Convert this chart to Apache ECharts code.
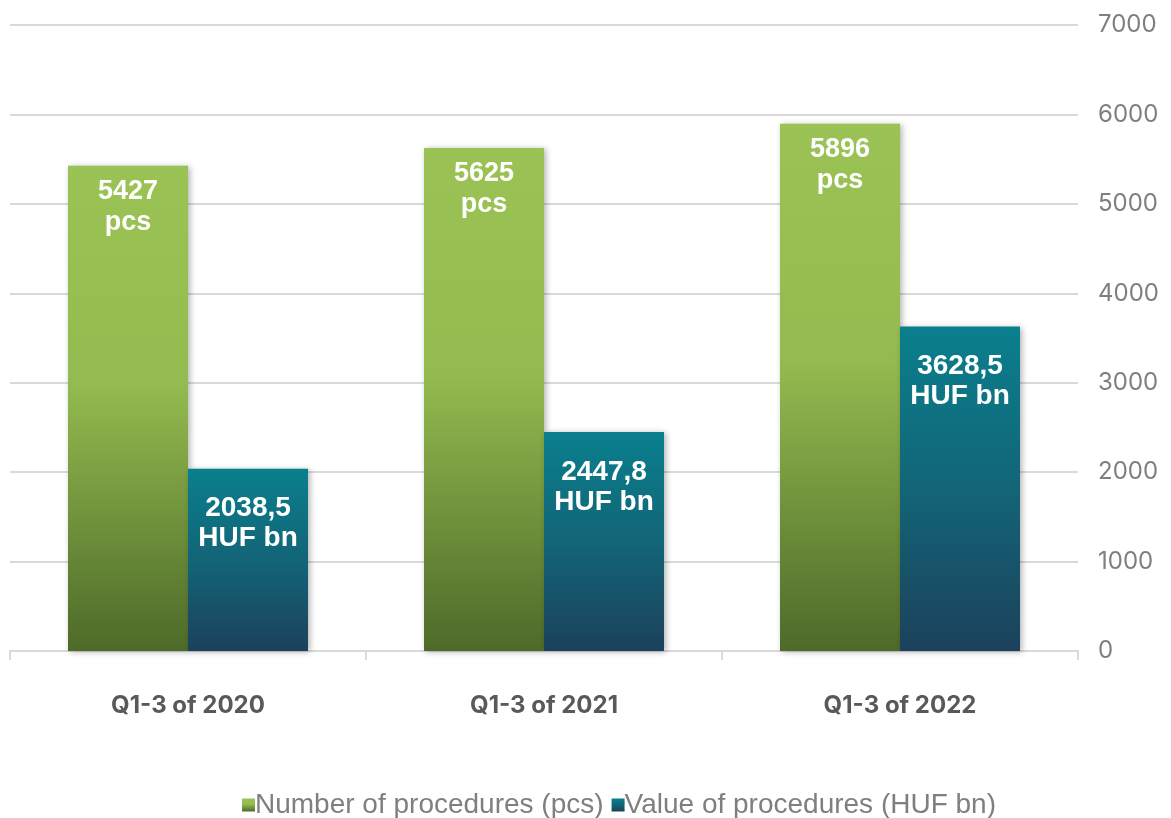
<!DOCTYPE html>
<html>
<head>
<meta charset="utf-8">
<script src="https://cdn.jsdelivr.net/npm/echarts@6/dist/echarts.min.js"></script>
<style>
    html, body { margin: 0; padding: 0; background: #fff; }
    #main { width: 1171px; height: 818px; }
</style>
</head>
<body>
<div id="main"></div>
<script>
var categories = ['Q1-3 of 2020', 'Q1-3 of 2021', 'Q1-3 of 2022'];
var procCount = [5427, 5625, 5896];
var procValue = [2038.5, 2447.8, 3628.5];
var countLabels = ['5427', '5625', '5896'];
var valueLabels = ['2038,5', '2447,8', '3628,5'];

~function () {
    var myChart = echarts.init(document.getElementById('main'));

    var green = new echarts.graphic.LinearGradient(0, 0, 0, 1, [
        {offset: 0, color: '#9bc254'},
        {offset: 0.45, color: '#93bb4f'},
        {offset: 1, color: '#4e6a29'}
    ]);
    var teal = new echarts.graphic.LinearGradient(0, 0, 0, 1, [
        {offset: 0, color: '#0a7f8d'},
        {offset: 0.5, color: '#126577'},
        {offset: 1, color: '#1c415c'}
    ]);

    var labelStyle = {
        show: true,
        position: 'insideTop',
        distance: 10,
        color: '#fff',
        fontFamily: 'Liberation Sans',
        fontWeight: 'bold',
        fontSize: 27,
        lineHeight: 31
    };

    var option = {
        animation: false,
        textStyle: {fontFamily: 'Liberation Sans'},
        grid: {left: 10, right: 93, top: 25, bottom: 167},
        legend: {
            top: 786,
            left: 237,
            itemWidth: 13,
            itemHeight: 13,
            itemGap: 8,
            icon: 'rect',
            textStyle: {fontSize: 28, color: '#7f7f7f', fontFamily: 'Liberation Sans', padding: [0, 0, 0, -5]},
            data: ['Number of procedures (pcs)', 'Value of procedures (HUF bn)']
        },
        xAxis: {
            type: 'category',
            data: categories,
            axisLine: {lineStyle: {color: '#d9d9d9', width: 2}},
            axisTick: {show: true, length: 9, lineStyle: {color: '#d9d9d9', width: 2}},
            axisLabel: {margin: 43, fontSize: 24, fontWeight: 'bold', color: '#595959', fontFamily: 'Inter'}
        },
        yAxis: {
            type: 'value',
            position: 'right',
            min: 0,
            max: 7000,
            interval: 1000,
            axisLine: {show: false},
            axisTick: {show: false},
            splitLine: {lineStyle: {color: '#d9d9d9', width: 2}},
            axisLabel: {
                margin: 20,
                fontSize: 24,
                color: '#7f7f7f',
                fontFamily: 'Inter',
                formatter: function (v) { return String(v); }
            }
        },
        series: [
            {
                name: 'Number of procedures (pcs)',
                type: 'bar',
                barWidth: 120,
                barGap: '0%',
                data: procCount,
                itemStyle: {
                    color: green,
                    shadowBlur: 6,
                    shadowColor: 'rgba(0,0,0,0.3)',
                    shadowOffsetX: 2,
                    shadowOffsetY: 1
                },
                label: Object.assign({}, labelStyle, {
                    formatter: function (p) { return countLabels[p.dataIndex] + '\npcs'; }
                })
            },
            {
                name: 'Value of procedures (HUF bn)',
                type: 'bar',
                barWidth: 120,
                data: procValue,
                itemStyle: {
                    color: teal,
                    shadowBlur: 6,
                    shadowColor: 'rgba(0,0,0,0.3)',
                    shadowOffsetX: 2,
                    shadowOffsetY: 1
                },
                label: Object.assign({}, labelStyle, {
                    distance: 25,
                    fontSize: 28,
                    lineHeight: 30,
                    formatter: function (p) { return valueLabels[p.dataIndex] + '\nHUF bn'; }
                })
            }
        ]
    };
    myChart.setOption(option);
}();
</script>
</body>
</html>
